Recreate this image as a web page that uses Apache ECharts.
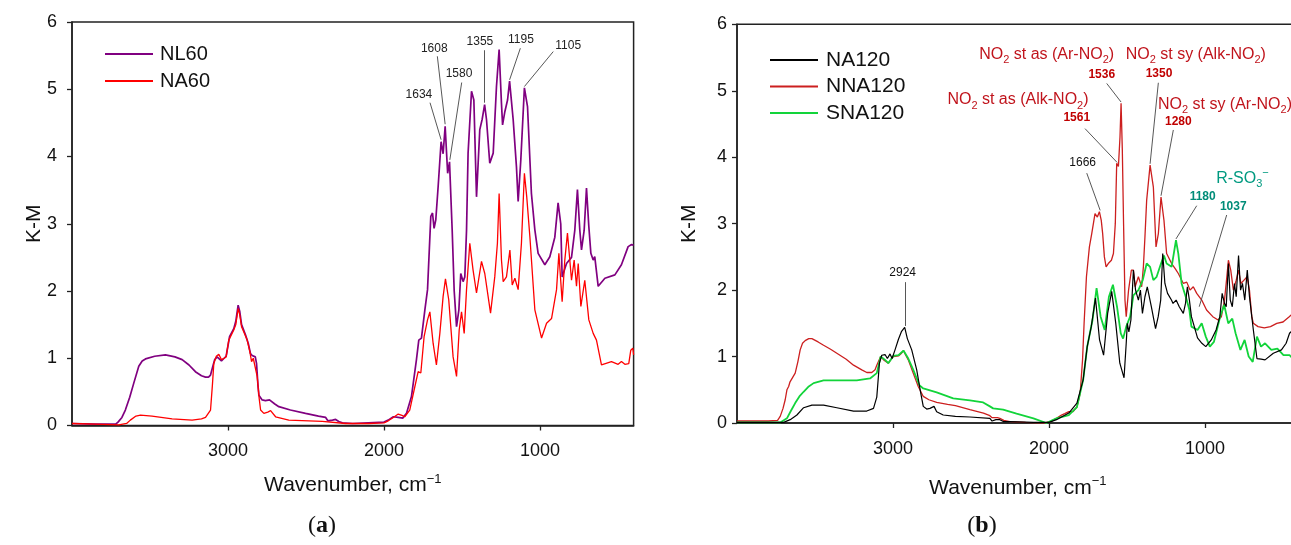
<!DOCTYPE html>
<html><head><meta charset="utf-8">
<script src="https://cdn.jsdelivr.net/npm/echarts@6/dist/echarts.min.js"></script>
<style>html,body{margin:0;padding:0;background:#fff}#c{width:1291px;height:545px}</style>
</head><body><div id="c"></div>
<script>
// ---------- DATA (wavenumber cm-1, K-M) ----------
const NL60 = [[4000,0.03],[3850,0.02],[3720,0.02],[3705,0.05],[3680,0.12],[3658,0.23],[3630,0.42],[3604,0.63],[3572,0.88],[3550,0.96],[3529,0.99],[3470,1.03],[3401,1.05],[3340,1.02],[3294,0.98],[3250,0.90],[3209,0.80],[3170,0.74],[3144,0.72],[3125,0.72],[3112,0.75],[3095,0.90],[3085,0.98],[3070,1.02],[3059,1.03],[3042,0.96],[3025,1.00],[3012,1.03],[2990,1.32],[2963,1.44],[2950,1.55],[2935,1.79],[2925,1.70],[2913,1.50],[2888,1.35],[2870,1.22],[2856,1.07],[2845,1.04],[2834,1.06],[2825,1.02],[2817,0.92],[2808,0.60],[2802,0.45],[2781,0.38],[2760,0.37],[2734,0.38],[2700,0.32],[2674,0.28],[2600,0.23],[2503,0.18],[2420,0.14],[2374,0.12],[2360,0.07],[2353,0.06],[2330,0.08],[2310,0.09],[2290,0.06],[2267,0.04],[2200,0.03],[2100,0.04],[2000,0.05],[1973,0.08],[1940,0.13],[1909,0.12],[1880,0.11],[1856,0.18],[1824,0.43],[1792,0.98],[1777,1.27],[1760,1.30],[1738,1.72],[1721,2.02],[1700,3.11],[1689,3.16],[1679,2.93],[1668,3.06],[1653,3.55],[1634,4.22],[1621,4.04],[1608,4.45],[1592,3.75],[1580,3.92],[1563,2.91],[1550,2.0],[1535,1.47],[1520,1.72],[1508,2.26],[1493,2.14],[1482,2.21],[1471,2.9],[1461,4.05],[1439,4.97],[1424,4.84],[1407,3.40],[1386,4.40],[1371,4.55],[1355,4.77],[1343,4.55],[1322,3.90],[1300,4.05],[1279,5.04],[1262,5.59],[1247,4.79],[1240,4.47],[1225,4.67],[1208,4.84],[1195,5.12],[1172,4.55],[1151,3.85],[1140,3.33],[1123,3.95],[1100,5.02],[1080,4.74],[1055,3.45],[1033,2.91],[1012,2.56],[969,2.39],[937,2.51],[905,2.8],[884,3.31],[867,3.0],[858,2.21],[830,2.41],[798,2.5],[777,2.9],[760,3.51],[745,2.91],[734,2.61],[717,2.9],[702,3.53],[687,2.96],[674,2.56],[659,2.46],[649,2.51],[627,2.07],[584,2.19],[520,2.24],[478,2.39],[435,2.66],[413,2.69],[400,2.68]];
const NA60 = [[4000,0.03],[3850,0.02],[3700,0.01],[3650,0.03],[3626,0.08],[3590,0.14],[3561,0.155],[3487,0.14],[3358,0.10],[3230,0.08],[3170,0.10],[3144,0.12],[3112,0.23],[3100,0.6],[3091,0.92],[3075,1.03],[3059,1.06],[3042,0.98],[3025,1.00],[3012,1.02],[2995,1.27],[2963,1.42],[2950,1.5],[2935,1.74],[2925,1.65],[2913,1.47],[2877,1.27],[2860,1.1],[2849,0.95],[2838,1.0],[2828,1.02],[2813,0.73],[2800,0.4],[2791,0.23],[2770,0.18],[2745,0.20],[2727,0.22],[2695,0.13],[2610,0.08],[2396,0.06],[2246,0.03],[2100,0.03],[2000,0.04],[1973,0.07],[1940,0.12],[1909,0.17],[1885,0.15],[1867,0.13],[1835,0.23],[1802,0.58],[1781,0.80],[1764,0.78],[1743,1.32],[1721,1.57],[1706,1.69],[1685,1.22],[1664,0.90],[1642,1.37],[1621,1.92],[1606,2.18],[1585,1.87],[1557,1.02],[1535,0.73],[1518,1.42],[1503,1.69],[1486,1.37],[1471,2.02],[1450,2.71],[1429,2.31],[1407,1.97],[1375,2.44],[1354,2.26],[1317,1.67],[1290,2.21],[1273,2.71],[1262,3.45],[1247,2.46],[1236,2.14],[1215,2.21],[1193,2.61],[1178,2.09],[1161,2.19],[1140,2.02],[1119,2.71],[1100,3.75],[1085,3.4],[1065,2.81],[1033,1.72],[990,1.30],[958,1.52],[926,1.59],[894,2.02],[879,2.56],[858,1.84],[841,2.46],[824,2.86],[809,2.46],[798,2.16],[781,2.46],[766,2.07],[755,2.41],[738,1.77],[713,2.16],[702,2.14],[687,1.57],[659,1.37],[638,1.27],[606,0.90],[542,0.95],[499,0.91],[478,0.95],[456,0.91],[431,0.92],[418,1.12],[405,1.15],[400,1.05]];
const NA120 = [[4000,0.01],[3750,0.01],[3701,0.01],[3659,0.05],[3616,0.12],[3573,0.23],[3520,0.27],[3445,0.27],[3360,0.23],[3253,0.18],[3168,0.18],[3125,0.22],[3104,0.39],[3087,0.90],[3072,1.02],[3051,1.03],[3036,0.97],[3019,1.04],[3006,0.97],[2987,1.10],[2965,1.26],[2945,1.38],[2925,1.44],[2908,1.27],[2880,1.10],[2848,0.80],[2823,0.46],[2806,0.25],[2784,0.21],[2763,0.22],[2737,0.25],[2720,0.17],[2678,0.12],[2600,0.10],[2507,0.09],[2379,0.07],[2365,0.03],[2358,0.02],[2340,0.05],[2315,0.05],[2290,0.02],[2251,0.02],[2100,0.01],[2000,0.01],[1952,0.05],[1873,0.15],[1821,0.30],[1781,0.65],[1755,1.15],[1729,1.45],[1702,1.88],[1676,1.25],[1650,1.02],[1624,1.65],[1598,1.98],[1572,1.50],[1546,0.90],[1519,0.68],[1505,1.2],[1498,1.50],[1488,1.37],[1475,1.55],[1459,2.30],[1445,2.0],[1427,1.85],[1414,2.0],[1401,1.65],[1385,1.9],[1370,2.05],[1344,1.75],[1317,1.42],[1300,1.6],[1284,1.85],[1271,2.55],[1257,2.1],[1240,1.95],[1231,1.93],[1215,1.85],[1205,1.80],[1185,1.85],[1165,1.75],[1139,1.65],[1125,1.8],[1113,2.05],[1100,1.85],[1087,1.60],[1048,1.28],[1020,1.2],[995,1.15],[960,1.25],[929,1.40],[905,1.6],[890,1.95],[875,1.8],[864,1.75],[850,2.4],[838,1.85],[825,1.75],[811,2.1],[800,1.9],[785,2.52],[772,2.0],[760,2.1],[745,1.85],[729,2.3],[715,1.9],[700,1.6],[690,1.4],[667,0.97],[640,0.96],[615,0.95],[562,1.05],[510,1.10],[480,1.2],[458,1.35],[437,1.40],[400,1.45]];
const NNA120 = [[4000,0.03],[3800,0.03],[3740,0.04],[3723,0.10],[3705,0.22],[3691,0.35],[3680,0.50],[3669,0.55],[3660,0.62],[3648,0.61],[3627,0.75],[3610,0.92],[3595,1.10],[3580,1.20],[3563,1.24],[3540,1.27],[3520,1.27],[3480,1.22],[3445,1.17],[3400,1.11],[3360,1.05],[3300,0.96],[3253,0.87],[3200,0.80],[3168,0.76],[3136,0.76],[3115,0.80],[3104,0.87],[3079,1.00],[3060,0.95],[3051,0.92],[3030,0.90],[3015,0.95],[2998,1.00],[2965,1.01],[2945,1.05],[2933,1.09],[2918,1.02],[2902,0.95],[2870,0.75],[2838,0.55],[2806,0.40],[2770,0.35],[2720,0.31],[2650,0.28],[2600,0.26],[2507,0.20],[2420,0.15],[2379,0.11],[2365,0.08],[2358,0.07],[2330,0.08],[2315,0.07],[2290,0.04],[2251,0.02],[2150,0.01],[2030,0.0],[1990,0.02],[1952,0.07],[1920,0.12],[1899,0.14],[1873,0.17],[1847,0.17],[1821,0.24],[1800,0.45],[1785,0.95],[1775,1.5],[1760,2.2],[1741,2.65],[1726,2.85],[1705,3.15],[1690,3.10],[1677,3.18],[1665,3.05],[1656,2.85],[1645,2.5],[1634,2.35],[1620,2.40],[1600,2.45],[1587,2.55],[1575,3.0],[1566,3.91],[1555,3.86],[1545,4.3],[1538,4.81],[1530,4.11],[1522,3.0],[1513,1.85],[1505,1.6],[1490,2.0],[1472,2.3],[1459,2.30],[1448,2.05],[1427,2.2],[1406,2.05],[1395,2.35],[1385,2.8],[1374,3.35],[1352,3.88],[1331,3.55],[1314,2.65],[1299,2.85],[1282,3.40],[1263,3.05],[1246,2.55],[1214,2.40],[1190,2.32],[1171,2.25],[1139,2.10],[1117,2.12],[1096,2.0],[1075,2.05],[1053,1.95],[1021,1.85],[990,1.7],[950,1.6],[916,1.55],[895,1.6],[875,1.85],[860,2.2],[850,2.45],[835,2.3],[818,2.0],[800,2.15],[785,2.3],[770,2.1],[750,2.15],[730,2.2],[715,2.0],[700,1.6],[690,1.5],[660,1.45],[620,1.43],[580,1.45],[540,1.5],[500,1.52],[460,1.6],[437,1.65],[400,1.7]];
const SNA120 = [[4000,0.01],[3720,0.01],[3680,0.07],[3655,0.18],[3627,0.30],[3600,0.40],[3573,0.47],[3540,0.55],[3509,0.60],[3445,0.64],[3360,0.64],[3232,0.64],[3147,0.67],[3104,0.75],[3079,1.00],[3051,0.95],[3030,0.90],[2998,1.01],[2965,1.02],[2933,1.09],[2902,0.97],[2870,0.80],[2831,0.57],[2806,0.52],[2720,0.46],[2614,0.37],[2507,0.34],[2422,0.31],[2379,0.25],[2358,0.22],[2294,0.20],[2208,0.14],[2100,0.07],[2017,0.0],[1952,0.07],[1873,0.12],[1821,0.24],[1781,0.65],[1755,1.15],[1721,1.55],[1695,2.03],[1669,1.60],[1643,1.40],[1616,1.90],[1590,2.08],[1564,1.75],[1540,1.35],[1525,1.27],[1505,1.45],[1480,1.6],[1459,1.92],[1427,2.0],[1399,2.15],[1374,2.40],[1352,2.35],[1331,2.15],[1310,2.2],[1282,2.40],[1263,2.52],[1246,2.4],[1214,2.35],[1186,2.75],[1171,2.55],[1150,2.10],[1117,1.85],[1100,1.7],[1087,1.45],[1048,1.40],[1021,1.5],[995,1.30],[969,1.15],[943,1.22],[903,1.6],[877,1.78],[851,1.5],[825,1.57],[804,1.35],[773,1.1],[746,1.25],[720,1.0],[694,0.92],[667,1.30],[641,1.15],[615,1.2],[575,1.1],[536,1.12],[497,1.02],[458,1.02],[437,0.97],[400,0.98]];

const X_TICKS = [3000, 2000, 1000];
const PEAKS_A = ['1634','1608','1580','1355','1195','1105'];
const PEAKS_B = ['2924','1666','1561','1536','1350','1280','1180','1037'];
const BANDS_B = ['NO{s|2} st as (Alk-NO{s|2})','NO{s|2} st as (Ar-NO{s|2})','NO{s|2} st sy (Alk-NO{s|2})','NO{s|2} st sy (Ar-NO{s|2})','R-SO{s|3}{p|−}'];

// ---------- annotation layout (data units) ----------
const LAY_A = [
  {at:[1776,4.92], line:[[1705,4.80],[1634,4.25]]},
  {at:[1678,5.61], line:[[1658,5.49],[1608,4.48]]},
  {at:[1519,5.23], line:[[1502,5.10],[1578,3.95]]},
  {at:[1385,5.71], line:[[1355,5.58],[1355,4.80]]},
  {at:[1122,5.74], line:[[1126,5.61],[1195,5.14]]},
  {at:[819,5.65],  line:[[915,5.56],[1100,5.04]]}
];
const LAY_B = [
  {at:[2938,2.26], line:[[2924,2.12],[2924,1.46]], c:'#111', b:false},
  {at:[1784,3.91], line:[[1758,3.76],[1672,3.20]], c:'#111', b:false},
  {at:[1822,4.59], line:[[1769,4.43],[1563,3.92]], c:'#c00000', b:true},
  {at:[1662,5.24], line:[[1630,5.11],[1538,4.83]], c:'#c00000', b:true},
  {at:[1295,5.25], line:[[1299,5.12],[1352,3.90]], c:'#c00000', b:true},
  {at:[1171,4.53], line:[[1203,4.41],[1282,3.42]], c:'#c00000', b:true},
  {at:[1015,3.40], line:[[1053,3.27],[1186,2.77]], c:'#008c78', b:true},
  {at:[819,3.26],  line:[[861,3.13],[1037,1.75]], c:'#008c78', b:true}
];
const LAY_BANDS = [
  {at:[2199,4.86], c:'#c0141c'},
  {at:[2015,5.54], c:'#c0141c'},
  {at:[1059,5.54], c:'#c0141c'},
  {at:[872,4.79],  c:'#c0141c'},
  {at:[760,3.68],  c:'#009a80'}
];

const FONT = '"Liberation Sans", Arial, sans-serif';
const chart = echarts.init(document.getElementById('c'), null, {renderer:'canvas'});

function xAxis(gi, gap) {
  return {
    type:'value', gridIndex:gi, inverse:true, min:400, max:4000,
    axisLine:{show:true, onZero:false, lineStyle:{color:'#222', width:1.5}},
    axisTick:{show:true, inside:false, length:5, customValues:X_TICKS, lineStyle:{color:'#222', width:1.3}},
    axisLabel:{show:true, customValues:X_TICKS, formatter:v => String(v), fontSize:18, color:'#111', fontFamily:FONT, margin:17},
    splitLine:{show:false},
    name:'Wavenumber, cm{sup|−1}', nameLocation:'middle', nameGap:gap, nameMoveOverlap:false,
    nameTextStyle:{fontSize:21, color:'#111', fontFamily:FONT, lineHeight:26,
      rich:{sup:{fontSize:13, lineHeight:13, verticalAlign:'top', color:'#111', fontFamily:FONT}}}
  };
}
function yAxis(gi, gap, margin) {
  return {
    type:'value', gridIndex:gi, min:0, max:6, interval:1,
    axisLine:{show:true, lineStyle:{color:'#222', width:1.5}},
    axisTick:{show:true, inside:false, length:5, lineStyle:{color:'#222', width:1.3}},
    axisLabel:{fontSize:18, color:'#111', fontFamily:FONT, margin:margin},
    splitLine:{show:false},
    name:'K-M', nameLocation:'middle', nameRotate:90, nameGap:gap, nameMoveOverlap:false,
    nameTextStyle:{fontSize:21, color:'#111', fontFamily:FONT}
  };
}
function spec(name, data, gi, color, w, z) {
  return {name, type:'line', xAxisIndex:gi, yAxisIndex:gi, data, showSymbol:false, symbol:'none',
    smooth:false, animation:false, z:z, lineStyle:{color, width:w}, itemStyle:{color}, emphasis:{disabled:true}};
}
function leaders(gi, lay) {
  return {type:'lines', coordinateSystem:'cartesian2d', xAxisIndex:gi, yAxisIndex:gi, silent:true, z:8,
    animation:false, data: lay.map(l => ({coords:l.line})), lineStyle:{color:'#444', width:0.9, opacity:1}};
}
const RICH = (c, size) => ({
  s:{fontSize:Math.round(size*0.68), lineHeight:Math.round(size*0.68), verticalAlign:'bottom', color:c, fontFamily:FONT, opacity:1},
  p:{fontSize:Math.round(size*0.68), lineHeight:Math.round(size*0.68), verticalAlign:'top', color:c, fontFamily:FONT, opacity:1}
});
function texts(gi, items) {
  return {type:'scatter', xAxisIndex:gi, yAxisIndex:gi, symbolSize:0, silent:true, z:12, animation:false,
    itemStyle:{opacity:1}, emphasis:{disabled:true},
    data: items.map(it => ({value:it.at, itemStyle:{opacity:1}, label:{show:true, position:'inside', formatter:it.t, opacity:1,
      color:it.c, fontSize:it.size, fontWeight:it.b?'bold':'normal', fontFamily:FONT, lineHeight:it.size+6,
      textBorderWidth:0, rich:RICH(it.c, it.size)}}))};
}

const annA = PEAKS_A.map((t,i) => ({t, at:LAY_A[i].at, c:'#222', b:false, size:12}));
const annB = PEAKS_B.map((t,i) => ({t, at:LAY_B[i].at, c:LAY_B[i].c, b:LAY_B[i].b, size:12}));
const bandB = BANDS_B.map((t,i) => ({t, at:LAY_BANDS[i].at, c:LAY_BANDS[i].c, b:false, size:16}));

const option = {
  backgroundColor:'#ffffff',
  animation:false,
  textStyle:{fontFamily:FONT},
  grid:[
    {left:72, top:22, width:561.6, height:403.5, show:true, borderColor:'#222', borderWidth:1.5, backgroundColor:'transparent', containLabel:false, outerBoundsMode:'none'},
    {left:737, top:24.3, width:561.6, height:398.7, show:true, borderColor:'#222', borderWidth:1.5, backgroundColor:'transparent', containLabel:false, outerBoundsMode:'none'}
  ],
  xAxis:[xAxis(0,47), xAxis(1,52)],
  yAxis:[yAxis(0,27,15), yAxis(1,37,10)],
  legend:[
    {data:['NL60','NA60'], orient:'vertical', left:100, top:39, icon:'rect', itemWidth:48, itemHeight:2, itemGap:7,
      selectedMode:false, textStyle:{fontSize:20, color:'#111', fontFamily:FONT, padding:[0,0,0,2]}},
    {data:['NA120','NNA120','SNA120'], orient:'vertical', left:765, top:44.5, icon:'rect', itemWidth:48, itemHeight:2, itemGap:5.5,
      selectedMode:false, textStyle:{fontSize:21, color:'#111', fontFamily:FONT, padding:[0,0,0,3]}}
  ],
  series:[
    spec('NL60', NL60, 0, '#800080', 1.7, 3),
    spec('NA60', NA60, 0, '#ff0000', 1.3, 4),
    spec('NNA120', NNA120, 1, '#cc1f1f', 1.3, 3),
    spec('SNA120', SNA120, 1, '#12d43a', 1.8, 4),
    spec('NA120', NA120, 1, '#000000', 1.2, 5),
    leaders(0, LAY_A),
    leaders(1, LAY_B),
    texts(0, annA),
    texts(1, annB),
    texts(1, bandB)
  ],
  graphic:[
    {type:'text', x:322, y:526, style:{text:'({b|a})', fontSize:24, fontFamily:'"Liberation Serif", "Times New Roman", serif', fill:'#111', align:'center', verticalAlign:'middle',
      rich:{b:{fontWeight:'bold', fontSize:24, fontFamily:'"Liberation Serif", serif', fill:'#111'}}}},
    {type:'text', x:982, y:526, style:{text:'({b|b})', fontSize:24, fontFamily:'"Liberation Serif", "Times New Roman", serif', fill:'#111', align:'center', verticalAlign:'middle',
      rich:{b:{fontWeight:'bold', fontSize:24, fontFamily:'"Liberation Serif", serif', fill:'#111'}}}}
  ]
};
chart.setOption(option);
</script>
</body></html>
